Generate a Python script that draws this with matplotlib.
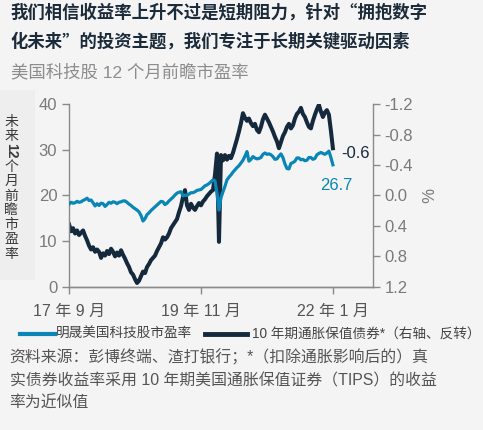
import matplotlib
matplotlib.use("Agg")
import matplotlib.pyplot as plt
import pandas as pd

plt.rcParams['font.family'] = ['Liberation Sans', 'Noto Sans CJK SC', 'DejaVu Sans']
cjk_first = ['Noto Sans CJK SC', 'Liberation Sans']

# MSCI US tech forward PE (left axis), sampled every 12 days from Sep 2017
pe_values = [
    18.1, 18.5, 18.3, 18.4, 18.7, 18.5, 18.6, 18.9, 19.1, 19.4,
    18.9, 19.0, 18.4, 17.7, 18.2, 17.8, 18.3, 18.2, 17.6, 18.0,
    18.5, 18.3, 18.6, 18.5, 18.2, 18.5, 18.6, 18.8, 18.8, 18.5,
    18.1, 17.8, 17.4, 17.1, 16.8, 16.4, 15.6, 14.4, 14.9, 15.8,
    16.2, 16.7, 17.1, 17.5, 17.9, 18.3, 18.7, 18.6, 18.0, 18.3,
    18.8, 19.2, 19.6, 20.1, 20.5, 20.7, 20.8, 19.9, 20.1, 20.0,
    20.3, 20.6, 20.6, 20.8, 21.1, 21.2, 21.3, 21.7, 22.1, 22.3,
    22.6, 23.0, 23.4, 23.2, 20.5, 16.8, 19.5, 20.8, 22.0, 23.4,
    24.0, 24.5, 25.1, 25.6, 26.1, 26.5, 27.1, 27.7, 28.6, 29.6,
    27.5, 27.9, 28.5, 28.2, 28.0, 28.1, 28.3, 29.0, 29.3, 29.0,
    29.1, 28.9, 28.5, 27.9, 28.0, 28.6, 29.1, 28.3, 26.9, 25.9,
    25.8, 27.0, 27.2, 27.5, 28.2, 28.2, 27.8, 27.9, 27.6, 27.7,
    28.3, 28.3, 27.9, 28.1, 28.9, 29.2, 29.4, 29.2, 29.0, 29.3,
    29.7, 28.3, 26.7,
]

# 10y TIPS real yield in % (right axis, inverted), same dates
tips_values = [
    0.38, 0.47, 0.43, 0.50, 0.46, 0.52, 0.49, 0.46, 0.53, 0.59,
    0.66, 0.71, 0.68, 0.74, 0.71, 0.74, 0.82, 0.76, 0.79, 0.73,
    0.77, 0.70, 0.74, 0.80, 0.75, 0.79, 0.72, 0.78, 0.83, 0.89,
    0.94, 1.01, 1.04, 1.10, 1.15, 1.12, 1.06, 1.00, 1.02, 0.94,
    0.90, 0.85, 0.82, 0.79, 0.73, 0.68, 0.63, 0.55, 0.58, 0.55,
    0.50, 0.43, 0.39, 0.35, 0.31, 0.22, 0.14, 0.02, -0.07, 0.13,
    0.19, 0.11, 0.16, 0.19, 0.14, 0.10, 0.13, 0.08, 0.05, 0.01,
    -0.02, -0.05, -0.07, -0.27, -0.55, 0.61, -0.53, -0.46, -0.53, -0.47,
    -0.52, -0.49, -0.56, -0.65, -0.74, -0.84, -0.95, -1.08, -1.02, -0.98,
    -1.01, -0.95, -0.91, -0.94, -0.86, -0.83, -0.90, -1.00, -1.06, -1.01,
    -0.96, -0.90, -0.84, -0.77, -0.71, -0.62, -0.70, -0.78, -0.83, -0.90,
    -0.94, -0.88, -0.92, -1.01, -1.07, -1.10, -1.15, -1.07, -1.03, -0.96,
    -0.90, -0.88, -0.98, -1.06, -1.13, -1.19, -1.10, -1.03, -1.09, -1.12,
    -1.06, -0.85, -0.62,
]

tick_dates = ['2017-09-01', '2019-11-01', '2022-01-01']
tick_labels = ['17 年 9 月', '19 年 11 月', '22 年 1 月']
left_ticks = [0, 10, 20, 30, 40]
right_ticks = [-1.2, -0.8, -0.4, 0.0, 0.4, 0.8, 1.2]

blue = '#0a86b6'
navy = '#15293d'
grey = '#7a7a7a'
bg = '#f4f4f4'

pe_dates = pd.date_range('2017-09-01', periods=len(pe_values), freq='12D')
tips_dates = pd.date_range('2017-09-01', periods=len(tips_values), freq='12D')

fig = plt.figure(figsize=(4.83, 4.30), dpi=100, facecolor=bg)
ax = fig.add_axes([0.143, 0.333, 0.629, 0.425])
ax.set_facecolor(bg)
ax2 = ax.twinx()

ax2.plot(tips_dates, tips_values, color=navy, lw=2.9, zorder=2)
ax.plot(pe_dates, pe_values, color=blue, lw=2.3, zorder=3)
ax.set_zorder(ax2.get_zorder() + 1)
ax.patch.set_visible(False)
ax2.patch.set_facecolor(bg)

ax.set_ylim(0, 40)
ax.set_yticks(left_ticks)
ax2.set_ylim(1.2, -1.2)
ax2.set_yticks(right_ticks)
ax2.set_yticklabels([f'{t:.1f}' for t in right_ticks])

ax.set_xlim(pd.Timestamp('2017-09-01'), pd.Timestamp('2022-08-30'))
ax.set_xticks([pd.Timestamp(d) for d in tick_dates])
ax.set_xticklabels(tick_labels)

for a in (ax, ax2):
    a.spines['top'].set_visible(False)
    for s in ('left', 'right', 'bottom'):
        a.spines[s].set_color('#8a8a8a')
        a.spines[s].set_linewidth(1.0)
    a.tick_params(colors='#8a8a8a', labelcolor=grey, labelsize=12, length=5, width=1)
ax.spines['right'].set_visible(False)
ax2.spines['left'].set_visible(False)
ax.tick_params(axis='x', labelsize=11.5, pad=7, labelcolor='#555555')

ax2.set_ylabel('%', color=grey, fontsize=12, rotation=270, labelpad=14)

# end-value labels
ax2.annotate(f'{tips_values[-1]:.1f}', xy=(tips_dates[-1], tips_values[-1]),
             xytext=(6, -4), textcoords='offset points', color=navy,
             fontsize=12, va='center', ha='left')
ax.annotate(f'{pe_values[-1]:.1f}', xy=(pe_dates[-1], pe_values[-1]),
            xytext=(-9, -15), textcoords='offset points', color=blue,
            fontsize=12, va='center', ha='left')

# titles
fig.text(0.022, 0.970, '我们相信收益率上升不过是短期阻力，针对“拥抱数字',
         fontsize=12.5, fontweight='bold', color='#1c2b3a', va='center', family=cjk_first)
fig.text(0.022, 0.904, '化未来”的投资主题，我们专注于长期关键驱动因素',
         fontsize=12.5, fontweight='bold', color='#1c2b3a', va='center', family=cjk_first)
fig.text(0.022, 0.832, '美国科技股 12 个月前瞻市盈率',
         fontsize=12.5, color='#8c8c8c', va='center')

# vertical y label (stacked characters)
fig.patches.append(plt.Rectangle((0, 0.35), 0.072, 0.44, transform=fig.transFigure,
                                 facecolor='#eeeeee', edgecolor='none', zorder=0))
fig.text(0.023, 0.700, '未\n来', fontsize=10, color='#3a3a3a',
         ha='center', va='center', linespacing=1.05)
fig.text(0.023, 0.649, '12', fontsize=10, color='#3a3a3a', fontweight='bold',
         ha='center', va='center', rotation=270)
fig.text(0.023, 0.511, '个\n月\n前\n瞻\n市\n盈\n率', fontsize=10, color='#3a3a3a',
         ha='center', va='center', linespacing=1.05)

# legend
leg_y = 0.223
fig.add_artist(plt.Line2D([0.042, 0.114], [leg_y, leg_y], color=blue, lw=3,
                          transform=fig.transFigure))
fig.text(0.116, leg_y, '明晟美国科技股市盈率', fontsize=9.8, color='#444444', va='center')
fig.add_artist(plt.Line2D([0.425, 0.511], [leg_y, leg_y], color=navy, lw=3.5,
                          transform=fig.transFigure))
fig.text(0.521, leg_y, '10 年期通胀保值债券*（右轴、反转）', fontsize=9.8,
         color='#444444', va='center')

# source note
note_kw = dict(fontsize=11.4, color='#555555', va='center')
fig.text(0.02, 0.168, '资料来源：彭博终端、渣打银行；*（扣除通胀影响后的）真', **note_kw)
fig.text(0.02, 0.114, '实债券收益率采用 10 年期美国通胀保值证券（TIPS）的收益', **note_kw)
fig.text(0.02, 0.062, '率为近似值', **note_kw)

fig.savefig('out.png', dpi=100, facecolor=bg)
